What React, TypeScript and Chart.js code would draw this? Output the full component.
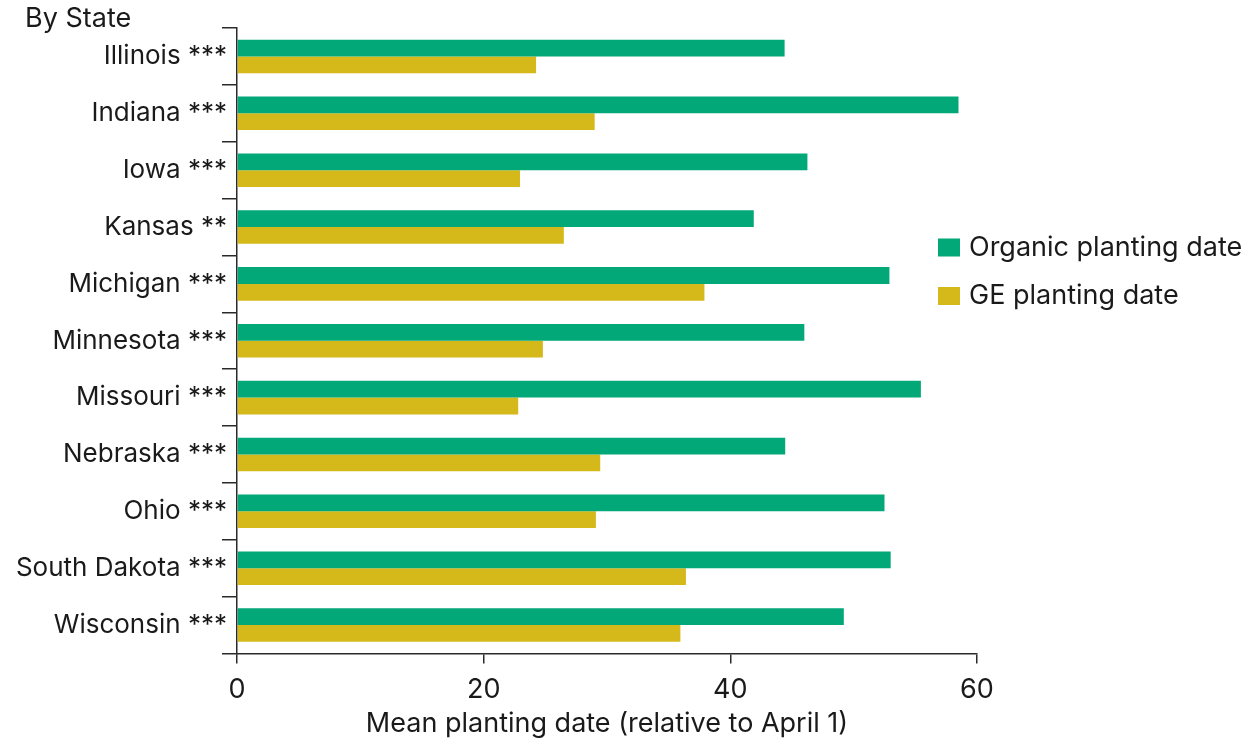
import React, { useEffect, useRef } from "react";
import { Chart, registerables } from "chart.js";

Chart.register(...registerables);

const states = [
  "Illinois ***",
  "Indiana ***",
  "Iowa ***",
  "Kansas **",
  "Michigan ***",
  "Minnesota ***",
  "Missouri ***",
  "Nebraska ***",
  "Ohio ***",
  "South Dakota ***",
  "Wisconsin ***",
];
const organicDates = [44.4, 58.5, 46.25, 41.9, 52.9, 46.0, 55.45, 44.45, 52.5, 53.0, 49.2];
const geDates = [24.25, 29.0, 22.95, 26.5, 37.9, 24.8, 22.8, 29.45, 29.1, 36.4, 35.95];
const seriesNames = ["Organic planting date", "GE planting date"];
const xTicks = [0, 20, 40, 60];
const xTitle = "Mean planting date (relative to April 1)";
const groupTitle = "By State";

const GREEN = "#02a877";
const YELLOW = "#d5b81a";
const TEXT = "#1a1a1a";
const AXIS = "#2a2a2a";
const FONT = "Inter, 'Liberation Sans', Arial, sans-serif";
const FS = 27;
const FS_Y = 26;

const annotationsPlugin = {
  id: "sideLegend",
  afterDraw(chart: any) {
    const ctx = chart.ctx;
    ctx.save();
    ctx.font = `${FS}px ${FONT}`;
    ctx.textBaseline = "middle";
    ctx.textAlign = "left";
    // group heading
    ctx.fillStyle = TEXT;
    ctx.fillText(groupTitle, 25, 19);
    // legend
    const x0 = 938;
    const ys = [247.5, 296];
    chart.data.datasets.forEach((ds: any, i: number) => {
      const y = ys[i];
      ctx.fillStyle = ds.backgroundColor;
      ctx.fillRect(x0, y - 9, 22, 18);
      ctx.fillStyle = TEXT;
      ctx.fillText(ds.label, x0 + 31, y);
    });
    ctx.restore();
  },
};

export default function App() {
  const ref = useRef<HTMLCanvasElement | null>(null);

  useEffect(() => {
    document.body.style.margin = "0";
    if (!ref.current) return;
    const chart = new Chart(ref.current, {
      type: "bar",
      data: {
        labels: states,
        datasets: [
          {
            label: seriesNames[0],
            data: organicDates,
            backgroundColor: GREEN,
            categoryPercentage: 0.59,
            barPercentage: 1,
          },
          {
            label: seriesNames[1],
            data: geDates,
            backgroundColor: YELLOW,
            categoryPercentage: 0.59,
            barPercentage: 1,
          },
        ],
      },
      options: {
        indexAxis: "y",
        responsive: false,
        animation: false,
        devicePixelRatio: 1,
        layout: { padding: { left: 0, right: 268, top: 28, bottom: 0 } },
        plugins: {
          legend: { display: false },
          tooltip: { enabled: false },
          title: { display: false },
        },
        scales: {
          x: {
            type: "linear",
            min: 0,
            max: 60,
            afterBuildTicks: (scale: any) => {
              scale.ticks = xTicks.map((v) => ({ value: v }));
            },
            afterFit: (scale: any) => {
              scale.height = 89.5;
            },
            grid: {
              drawOnChartArea: false,
              drawTicks: true,
              tickLength: 10,
              color: AXIS,
              lineWidth: 1.5,
            },
            border: { display: true, color: AXIS, width: 1.5 },
            ticks: {
              color: TEXT,
              padding: 13,
              font: { family: FONT, size: FS, lineHeight: 1 },
            },
            title: {
              display: true,
              text: xTitle,
              color: TEXT,
              font: { family: FONT, size: FS, lineHeight: 1 },
              padding: { top: 0, bottom: 5.5 },
            },
          },
          y: {
            type: "category",
            afterFit: (scale: any) => {
              scale.width = 237;
            },
            grid: {
              offset: true,
              drawOnChartArea: false,
              drawTicks: true,
              tickLength: 15,
              color: AXIS,
              lineWidth: 1.5,
            },
            border: { display: true, color: AXIS, width: 1.5 },
            ticks: {
              color: TEXT,
              padding: -5,
              autoSkip: false,
              font: { family: FONT, size: FS_Y },
            },
          },
        },
      },
      plugins: [annotationsPlugin],
    } as any);
    return () => chart.destroy();
  }, []);

  return (
    <div style={{ position: "absolute", left: 0, top: 0, width: 1245, height: 743 }}>
      <canvas ref={ref} width={1245} height={743} style={{ width: 1245, height: 743, display: "block" }} />
    </div>
  );
}
